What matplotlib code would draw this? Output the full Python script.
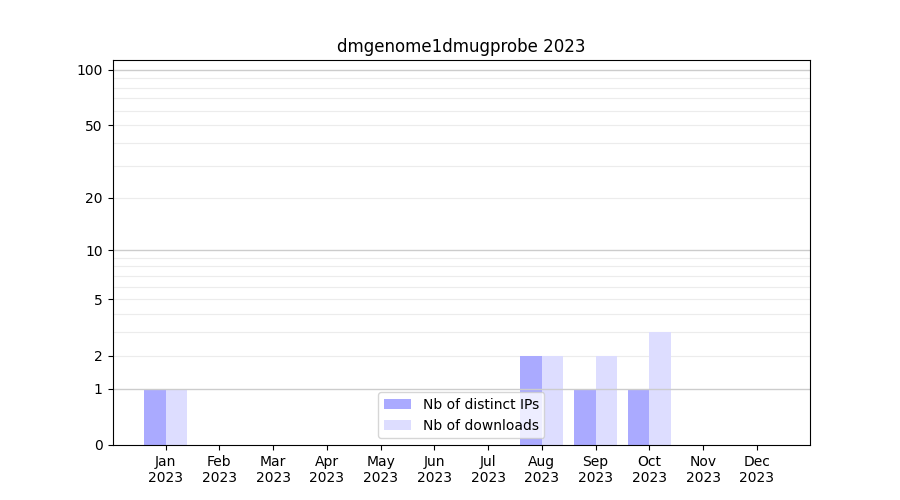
import numpy as np
import matplotlib
matplotlib.use("Agg")
import matplotlib.pyplot as plt

months = ["Jan", "Feb", "Mar", "Apr", "May", "Jun", "Jul", "Aug", "Sep", "Oct", "Nov", "Dec"]
year = "2023"
distinct_ips = [1, 0, 0, 0, 0, 0, 0, 2, 1, 1, 0, 0]
downloads = [1, 0, 0, 0, 0, 0, 0, 2, 2, 3, 0, 0]
ytick_vals = [0, 1, 2, 5, 10, 20, 50, 100]
major_grid = [1, 10, 100]
minor_grid = [2, 3, 4, 5, 6, 7, 8, 9, 20, 30, 40, 50, 60, 70, 80, 90]

fig = plt.figure(figsize=(9, 5), dpi=100)
ax = fig.add_subplot(111)

ax.set_yscale("function", functions=(lambda y: np.log10(np.maximum(y, -0.999) + 1),
                                     lambda x: 10 ** x - 1))

x = np.arange(len(months))
ax.bar(x, distinct_ips, width=-0.4, align="edge", color="#aaaaff", label="Nb of distinct IPs", zorder=1)
ax.bar(x, downloads, width=0.4, align="edge", color="#ddddff", label="Nb of downloads", zorder=1)

for v in minor_grid:
    ax.axhline(v, color="#ececec", lw=0.8, zorder=0.5)
for v in major_grid:
    ax.axhline(v, color="#cccccc", lw=1.0, zorder=2)

ax.set_ylim(0, 113)
ax.set_yticks(ytick_vals)
ax.set_yticklabels([str(v) for v in ytick_vals])
ax.minorticks_off()
ax.set_xticks(x)
ax.set_xticklabels([f"{m}\n{year}" for m in months])
ax.set_title("dmgenome1dmugprobe 2023")
ax.legend(loc="lower center")

fig.savefig("out.png", dpi=100)
